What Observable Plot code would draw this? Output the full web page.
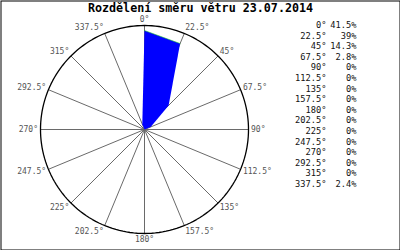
<!DOCTYPE html>
<html>
<head>
<meta charset="utf-8">
<script src="https://cdn.jsdelivr.net/npm/d3@7"></script>
<script src="https://cdn.jsdelivr.net/npm/@observablehq/plot@0.6"></script>
<style>
  html, body { margin: 0; padding: 0; background: #fff; }
  #chart svg { display: block; }
</style>
</head>
<body>
<div id="chart"></div>
<script>
const title = "Rozdělení směru větru 23.07.2014";
const directions = [0, 22.5, 45, 67.5, 90, 112.5, 135, 157.5, 180, 202.5, 225, 247.5, 270, 292.5, 315, 337.5];
const percents = [41.5, 39, 14.3, 2.8, 0, 0, 0, 0, 0, 0, 0, 0, 0, 0, 0, 2.4];
const dirLabels = ["0°", "22.5°", "45°", "67.5°", "90°", "112.5°", "135°", "157.5°", "180°", "202.5°", "225°", "247.5°", "270°", "292.5°", "315°", "337.5°"];
const pctLabels = ["41.5%", "39%", "14.3%", "2.8%", "0%", "0%", "0%", "0%", "0%", "0%", "0%", "0%", "0%", "0%", "0%", "2.4%"];
const rMax = 43.6; // outer circle value

const W = 400, H = 250, cx = 144, cy = 129, Rpx = 104;
const k = Rpx / rMax; // px per unit
const rad = d => d * Math.PI / 180;

const pts = directions.map((d, i) => ({
  x: percents[i] * Math.sin(rad(d)),
  y: percents[i] * Math.cos(rad(d))
}));
const spokes = directions.map(d => ({d, x: rMax * Math.sin(rad(d)), y: rMax * Math.cos(rad(d))}));
const circle = d3.range(0, 361, 2).map(a => ({x: rMax * Math.sin(rad(a)), y: rMax * Math.cos(rad(a))}));
const labels = directions.map((d, i) => {
  const s = Math.sin(rad(d)), c = Math.cos(rad(d));
  return {
    text: dirLabels[i], s,
    x: rMax * s + (2.5 * s) / k,
    y: rMax * c + (6 * c) / k
  };
});

const font = "DejaVu Sans Mono, monospace";
const chart = Plot.plot({
  width: W, height: H,
  marginTop: 0, marginRight: 0, marginBottom: 0, marginLeft: 0,
  x: {domain: [-cx / k, (W - cx) / k], range: [0, W], axis: null},
  y: {domain: [-(H - cy) / k, cy / k], range: [H, 0], axis: null},
  style: {background: "#fff", fontFamily: font},
  marks: [
    Plot.link(spokes, {x1: () => 0, y1: () => 0, x2: "x", y2: "y", stroke: "#6a6a6a", strokeWidth: 1}),
    Plot.line(circle, {x: "x", y: "y", stroke: "#000", strokeWidth: 1.3}),
    Plot.line(pts, {x: "x", y: "y", fill: "#0000ff", stroke: "none", curve: "linear-closed"}),
    Plot.line(pts.slice(0, 2), {x: "x", y: "y", stroke: "#22cc22", strokeWidth: 0.8, strokeOpacity: 0.7}),
    Plot.text(labels.filter(l => l.s > 0.01), {x: "x", y: "y", text: "text", textAnchor: "start", fill: "#555", fontSize: 8, fontFamily: font}),
    Plot.text(labels.filter(l => l.s < -0.01), {x: "x", y: "y", text: "text", textAnchor: "end", fill: "#555", fontSize: 8, fontFamily: font}),
    Plot.text(labels.filter(l => Math.abs(l.s) <= 0.01), {x: "x", y: "y", text: "text", textAnchor: "middle", fill: "#555", fontSize: 8, fontFamily: font}),
    Plot.text([title], {frameAnchor: "top", lineAnchor: "top", dy: 3, text: d => d, fontSize: 11.7, fontWeight: "bold", fill: "#000", fontFamily: font}),
    Plot.text([dirLabels.join("\n")], {frameAnchor: "top-right", lineAnchor: "top", textAnchor: "end", dx: -74, dy: 20, lineHeight: 10.6 / 8.7, text: d => d, fontSize: 8.7, fill: "#111", fontFamily: font}),
    Plot.text([pctLabels.join("\n")], {frameAnchor: "top-right", lineAnchor: "top", textAnchor: "end", dx: -44, dy: 20, lineHeight: 10.6 / 8.7, text: d => d, fontSize: 8.7, fill: "#111", fontFamily: font}),
    Plot.frame({stroke: "#000", inset: 0.5})
  ]
});
document.getElementById("chart").append(chart);
</script>
</body>
</html>
